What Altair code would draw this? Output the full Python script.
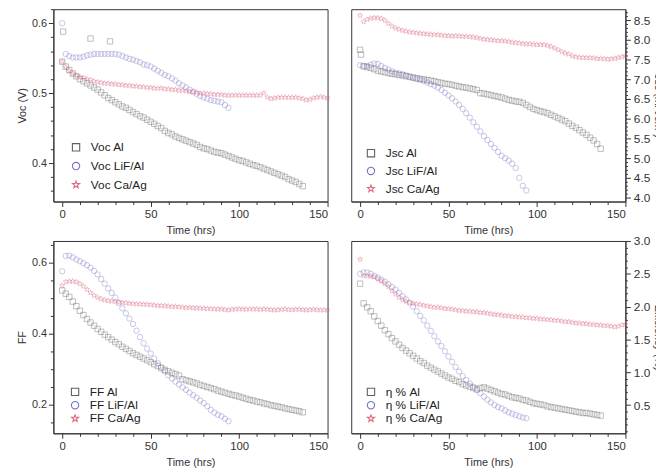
import altair as alt
import pandas as pd

# ---------------- data ----------------
T_AL = list(range(0, 138, 2))
T_LIF = list(range(0, 96, 2))
T_CA = list(range(0, 152, 2))

SERIES = ["Al", "LiF/Al", "Ca/Ag"]

VOC_AL = [0.545,0.538,0.533,0.528,0.524,0.520,0.517,0.514,0.511,0.508,
          0.505,0.501,0.497,0.493,0.490,0.487,0.484,0.481,0.479,0.476,
          0.473,0.470,0.467,0.465,0.462,0.459,0.456,0.453,0.450,0.446,
          0.443,0.441,0.438,0.436,0.434,0.432,0.430,0.428,0.426,0.423,
          0.421,0.420,0.418,0.416,0.415,0.414,0.412,0.410,0.408,0.406,
          0.404,0.403,0.401,0.399,0.397,0.396,0.394,0.392,0.390,0.388,
          0.386,0.384,0.382,0.380,0.377,0.375,0.373,0.370,0.367]
VOC_AL_EXTRA_T = [0.5, 16, 27]
VOC_AL_EXTRA_V = [0.588, 0.578, 0.574]
VOC_LIF = [0.600,0.556,0.553,0.551,0.551,0.551,0.552,0.554,0.555,0.556,
           0.556,0.556,0.556,0.556,0.556,0.556,0.555,0.553,0.551,0.549,
           0.548,0.546,0.544,0.541,0.540,0.538,0.535,0.532,0.529,0.526,
           0.524,0.521,0.518,0.514,0.511,0.508,0.505,0.502,0.499,0.496,
           0.494,0.492,0.490,0.489,0.488,0.487,0.483,0.479]
VOC_CA = [0.545,0.537,0.532,0.528,0.525,0.523,0.522,0.520,0.519,0.517,
          0.516,0.515,0.514,0.514,0.513,0.513,0.512,0.512,0.511,0.511,
          0.510,0.510,0.509,0.509,0.508,0.508,0.507,0.507,0.507,0.506,
          0.506,0.505,0.505,0.504,0.504,0.503,0.502,0.502,0.501,0.500,
          0.500,0.499,0.499,0.498,0.498,0.498,0.497,0.497,0.497,0.497,
          0.497,0.497,0.497,0.497,0.497,0.497,0.497,0.500,0.494,0.492,
          0.493,0.494,0.494,0.494,0.494,0.494,0.494,0.493,0.492,0.490,
          0.491,0.493,0.494,0.495,0.494,0.493]

JSC_AL = [7.75,7.33,7.31,7.29,7.26,7.22,7.20,7.18,7.16,7.14,
          7.13,7.11,7.10,7.08,7.06,7.05,7.03,7.01,7.00,6.98,
          6.97,6.95,6.93,6.91,6.89,6.88,6.86,6.84,6.82,6.80,
          6.79,6.77,6.75,6.73,6.65,6.64,6.62,6.60,6.58,6.56,
          6.54,6.51,6.48,6.46,6.44,6.43,6.40,6.35,6.30,6.25,
          6.22,6.19,6.17,6.14,6.10,6.06,6.02,5.98,5.94,5.88,
          5.82,5.77,5.71,5.65,5.59,5.52,5.45,5.36,5.24]
JSC_AL_EXTRA_T = [0.5]
JSC_AL_EXTRA_V = [7.63]
JSC_LIF = [7.36,7.34,7.34,7.37,7.40,7.39,7.34,7.29,7.25,7.20,
           7.17,7.15,7.13,7.10,7.07,7.03,7.01,6.99,6.96,6.92,
           6.88,6.84,6.79,6.73,6.66,6.59,6.52,6.44,6.35,6.25,
           6.14,6.03,5.91,5.80,5.68,5.56,5.46,5.36,5.26,5.16,
           5.06,5.00,4.94,4.86,4.75,4.50,4.30,4.18]
JSC_CA = [8.62,8.46,8.52,8.55,8.56,8.56,8.54,8.50,8.42,8.35,
          8.30,8.27,8.24,8.22,8.20,8.19,8.18,8.17,8.16,8.15,
          8.14,8.14,8.13,8.12,8.11,8.11,8.10,8.10,8.10,8.09,
          8.09,8.08,8.07,8.06,8.04,8.02,8.01,8.00,7.99,7.98,
          7.98,7.97,7.96,7.94,7.93,7.92,7.91,7.90,7.90,7.89,
          7.88,7.88,7.88,7.86,7.83,7.79,7.75,7.70,7.66,7.64,
          7.59,7.57,7.56,7.55,7.55,7.55,7.54,7.53,7.53,7.52,
          7.51,7.52,7.53,7.55,7.57,7.60]

FF_AL = [0.521,0.512,0.503,0.490,0.477,0.464,0.452,0.441,0.431,0.422,
         0.413,0.405,0.397,0.390,0.383,0.376,0.370,0.363,0.357,0.351,
         0.345,0.340,0.335,0.330,0.325,0.320,0.314,0.309,0.303,0.298,
         0.294,0.290,0.286,0.282,0.272,0.269,0.266,0.263,0.260,0.256,
         0.253,0.250,0.247,0.244,0.240,0.237,0.234,0.231,0.228,0.226,
         0.223,0.220,0.217,0.214,0.212,0.209,0.207,0.204,0.202,0.199,
         0.197,0.195,0.193,0.190,0.188,0.186,0.184,0.182,0.179]
FF_LIF = [0.575,0.618,0.619,0.614,0.608,0.603,0.598,0.592,0.585,0.576,
          0.566,0.553,0.540,0.527,0.514,0.501,0.486,0.471,0.457,0.442,
          0.427,0.408,0.390,0.373,0.358,0.344,0.330,0.317,0.305,0.294,
          0.283,0.274,0.265,0.257,0.249,0.242,0.234,0.227,0.220,0.212,
          0.205,0.196,0.186,0.178,0.172,0.168,0.161,0.154]
FF_CA = [0.535,0.545,0.547,0.547,0.545,0.540,0.533,0.524,0.515,0.507,
         0.501,0.497,0.494,0.492,0.491,0.490,0.488,0.487,0.486,0.485,
         0.484,0.483,0.483,0.482,0.482,0.481,0.480,0.479,0.478,0.478,
         0.477,0.476,0.476,0.475,0.474,0.473,0.473,0.472,0.472,0.471,
         0.471,0.470,0.470,0.469,0.469,0.469,0.467,0.466,0.468,0.469,
         0.469,0.469,0.468,0.469,0.469,0.469,0.468,0.469,0.468,0.467,
         0.466,0.467,0.468,0.469,0.467,0.467,0.468,0.468,0.467,0.466,
         0.467,0.468,0.467,0.466,0.466,0.466]

EFF_AL = [2.35,2.05,1.99,1.93,1.85,1.78,1.71,1.64,1.58,1.52,
          1.47,1.42,1.37,1.33,1.29,1.25,1.21,1.17,1.14,1.10,
          1.07,1.04,1.01,0.98,0.95,0.92,0.90,0.87,0.85,0.82,
          0.80,0.78,0.76,0.74,0.76,0.77,0.75,0.73,0.71,0.69,
          0.67,0.66,0.64,0.62,0.61,0.60,0.58,0.57,0.55,0.53,
          0.52,0.51,0.50,0.48,0.47,0.46,0.45,0.44,0.43,0.42,
          0.41,0.40,0.39,0.38,0.38,0.37,0.36,0.35,0.34]
EFF_LIF = [2.50,2.52,2.52,2.50,2.47,2.44,2.41,2.38,2.34,2.30,
           2.26,2.21,2.16,2.11,2.06,2.00,1.93,1.86,1.79,1.71,
           1.63,1.55,1.47,1.40,1.32,1.24,1.16,1.08,1.01,0.94,
           0.88,0.83,0.78,0.73,0.68,0.63,0.58,0.54,0.50,0.47,
           0.45,0.42,0.39,0.37,0.35,0.33,0.31,0.30]
EFF_CA = [2.72,2.47,2.47,2.46,2.45,2.42,2.39,2.35,2.30,2.24,
          2.19,2.14,2.10,2.08,2.06,2.05,2.04,2.03,2.02,2.01,
          2.00,1.99,1.99,1.98,1.97,1.97,1.96,1.95,1.94,1.94,
          1.93,1.93,1.92,1.92,1.91,1.91,1.90,1.89,1.88,1.88,
          1.87,1.86,1.86,1.85,1.85,1.84,1.84,1.83,1.83,1.82,
          1.82,1.81,1.81,1.80,1.80,1.79,1.79,1.78,1.77,1.77,
          1.76,1.75,1.75,1.74,1.74,1.73,1.73,1.72,1.72,1.71,
          1.71,1.70,1.69,1.70,1.72,1.73]

# ---------------- styling ----------------
COLORS = ["#606060", "#7474c4", "#dc6a82"]
STAR = ("M0,-1L0.235,-0.324L0.951,-0.309L0.38,0.124L0.588,0.809L0,0.4"
        "L-0.588,0.809L-0.38,0.124L-0.951,-0.309L-0.235,-0.324Z")
SHAPES = ["square", "circle", STAR]
FONT = "Liberation Sans"
INK = "#333333"
PW, PH = 278, 195


def frame(al, lif, ca, extra_t=(), extra_v=()):
    rows = []
    for t, v in zip(T_AL, al):
        rows.append({"t": t, "v": v, "s": "Al"})
    for t, v in zip(extra_t, extra_v):
        rows.append({"t": t, "v": v, "s": "Al"})
    for t, v in zip(T_LIF, lif):
        rows.append({"t": t, "v": v, "s": "LiF/Al"})
    for t, v in zip(T_CA, ca):
        rows.append({"t": t, "v": v, "s": "Ca/Ag"})
    return pd.DataFrame(rows)


def panel(df, ydom, yticks, mult, title, orient, prefix, lx, ly, rowpad):
    major = f"abs(datum.value*{mult} - round(datum.value*{mult})) < 0.001"
    legend = alt.Legend(
        orient="none", legendX=lx, legendY=ly, title=None,
        labelExpr=f"'{prefix}' + datum.label",
        labelFontSize=12, labelFont=FONT, labelColor="#222222",
        symbolSize=55, symbolStrokeWidth=1.1, symbolOpacity=1, rowPadding=rowpad,
        labelOffset=9, padding=0,
    )
    right = orient == "right"
    xmajor = "datum.value % 50 === 0"
    return alt.Chart(df).mark_point(
        filled=False, size=30, strokeWidth=0.8, opacity=0.5
    ).encode(
        x=alt.X("t:Q", scale=alt.Scale(domain=[-5, 150], nice=False, zero=False),
                axis=alt.Axis(values=list(range(0, 151, 10)),
                              labelExpr=f"{xmajor} ? datum.label : ''",
                              labelFontSize={"condition": {"test": xmajor, "value": 11.5}, "value": 0},
                              tickSize={"condition": {"test": xmajor, "value": 5}, "value": 3},
                              title="Time (hrs)", titlePadding=5)),
        y=alt.Y("v:Q", scale=alt.Scale(domain=ydom, nice=False, zero=False),
                axis=alt.Axis(values=yticks, orient=orient,
                              labelExpr=f"{major} ? format(datum.value, '.1f') : ''",
                              labelFontSize={"condition": {"test": major, "value": 12 if right else 11},
                                             "value": 0},
                              labelPadding=3 if right else 2,
                              tickSize={"condition": {"test": major, "value": 5},
                                        "value": 2 if right else 3},
                              title=title, titlePadding=3 if right else 4)),
        color=alt.Color("s:N", scale=alt.Scale(domain=SERIES, range=COLORS), legend=legend),
        shape=alt.Shape("s:N", scale=alt.Scale(domain=SERIES, range=SHAPES), legend=legend),
    ).properties(width=PW, height=PH)


voc_ticks = [round(0.36 + 0.02 * i, 2) for i in range(14)]
jsc_ticks = [round(4.0 + 0.1 * i, 1) for i in range(48)]
ff_ticks = [round(0.15 + 0.05 * i, 2) for i in range(11)]
eff_ticks = [round(0.1 + 0.1 * i, 1) for i in range(30)]

p1 = panel(frame(VOC_AL, VOC_LIF, VOC_CA, VOC_AL_EXTRA_T, VOC_AL_EXTRA_V),
           [0.345, 0.62], voc_ticks, 10, "Voc (V)", "left", "Voc ", 17, 134, 7)
p2 = panel(frame(JSC_AL, JSC_LIF, JSC_CA, JSC_AL_EXTRA_T, JSC_AL_EXTRA_V),
           [3.9, 8.78], jsc_ticks, 2, "Jsc (mA/cm²)", "right", "Jsc ", 14, 140, 6)
p3 = panel(frame(FF_AL, FF_LIF, FF_CA),
           [0.12, 0.66], ff_ticks, 5, "FF", "left", "FF ", 16, 147, 1.5)
p4 = panel(frame(EFF_AL, EFF_LIF, EFF_CA),
           [0.07, 3.0], eff_ticks, 2, "Efficiency (%)", "right", "η % ", 14, 147, 1.5)

chart = alt.concat(
    p1, p2, p3, p4, columns=2, spacing={"row": 40, "column": 24}, bounds="flush"
).resolve_scale(
    color="independent", shape="independent"
).properties(
    padding={"left": 8, "top": -3, "right": -9, "bottom": 0},
    background="white",
).configure_axis(
    grid=False, labelFont=FONT, titleFont=FONT, labelFontSize=11, titleFontSize=11,
    titleFontWeight="normal", labelColor=INK, titleColor=INK,
    domainColor=INK, tickColor=INK, labelPadding=2,
).configure_view(
    stroke=INK, strokeWidth=1,
)

chart.save("out.html", embed_options={"renderer": "svg", "actions": False})
